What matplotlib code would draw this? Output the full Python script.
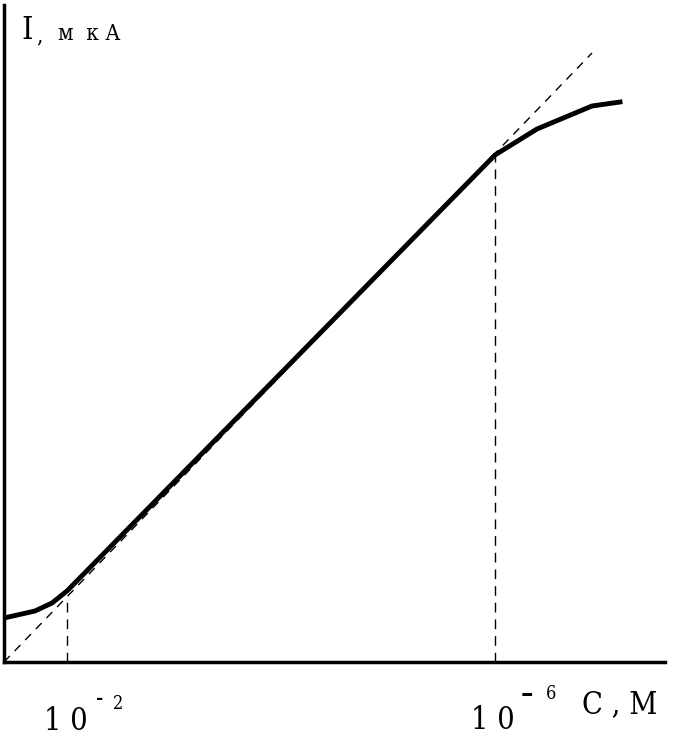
import matplotlib.pyplot as plt

# curve readings (x along concentration axis, y current), arbitrary units
curve_x = [0, 31, 48, 63, 491, 533, 588, 616]
curve_y = [44, 51, 59, 71, 507, 533, 556, 560]
# extrapolated linear part
guide_x = [0, 588]
guide_y = [0, 609]
# markers of the linear range
range_x = [63, 491]
range_top = [65, 507]

FONT = ["DejaVu Serif", "Liberation Serif"]
STRETCH = "condensed"

fig = plt.figure(figsize=(6.76, 7.39), dpi=100)
ax = fig.add_axes([4 / 676, 77 / 739, 661 / 676, 657 / 739])
ax.set_xlim(0, 661)
ax.set_ylim(0, 657)

ax.plot(guide_x, guide_y, color="black", lw=1, ls=(0, (6, 5)))
for x, top in zip(range_x, range_top):
    ax.plot([x, x], [0, top], color="black", lw=1, ls=(0, (7, 5)))
ax.plot(curve_x, curve_y, color="black", lw=3.5, solid_joinstyle="round")

for side in ("top", "right"):
    ax.spines[side].set_visible(False)
for side in ("left", "bottom"):
    ax.spines[side].set_linewidth(2.5)
ax.set_xticks([])
ax.set_yticks([])


def label(x, y, s, size, **kw):
    fig.text(x / 676, 1 - y / 739, s, fontsize=size, family=FONT,
             fontstretch=STRETCH, **kw)


label(21, 39, "I", 23)
label(36, 42, ",", 16)
label(58, 40, "м  к А", 16)

label(44, 730, "1 0", 22)
label(96, 704, "-", 14, weight="bold")
label(113, 709, "2", 13)
label(471, 729, "1 0", 22)
label(521, 702, "–", 20, weight="bold")
label(546, 699, "6", 13)
label(582, 713, "С , М", 22)

fig.savefig("out.png", dpi=100)
